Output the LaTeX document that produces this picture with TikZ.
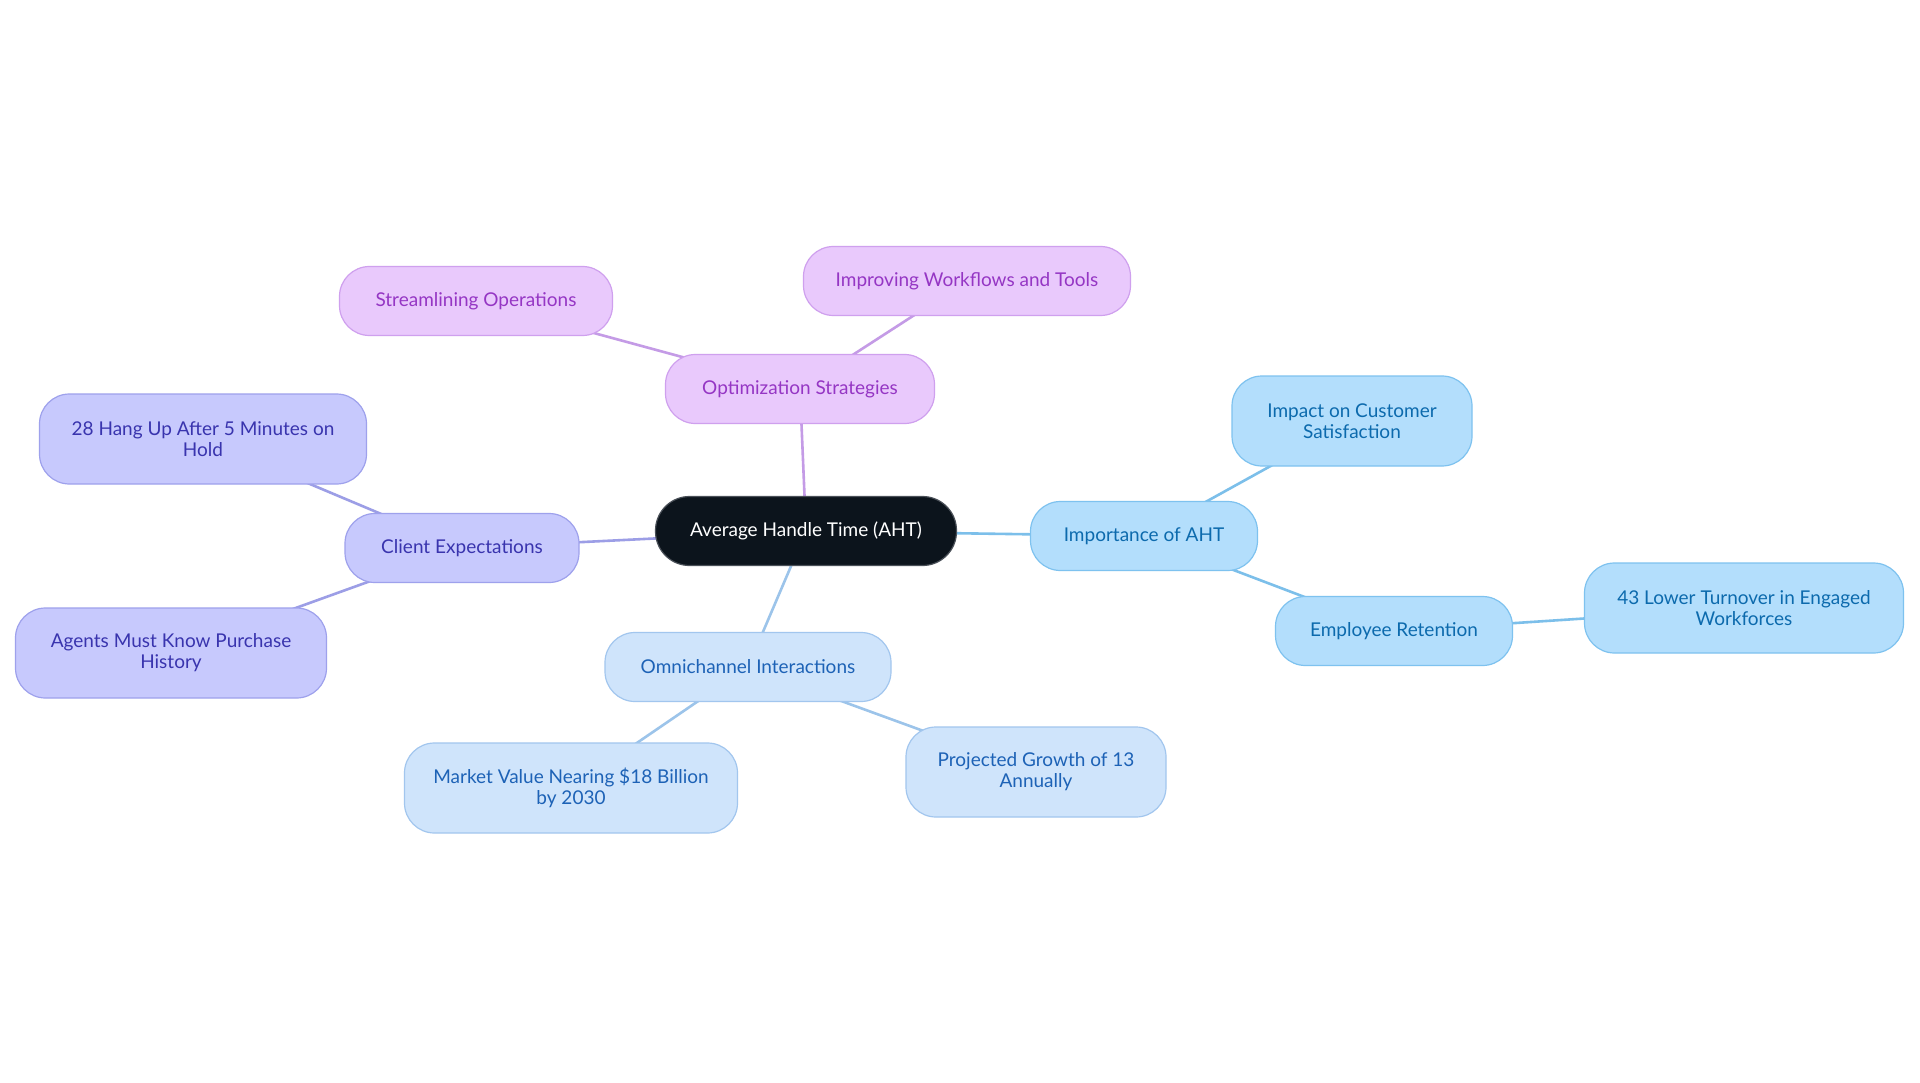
\documentclass[tikz,border=0pt]{standalone}
\usepackage{fontspec}
\setmainfont{Lato}
\usetikzlibrary{backgrounds}
\definecolor{rootfill}{HTML}{0C141C}
\definecolor{rootdraw}{HTML}{4A5058}
\definecolor{pfill}{HTML}{E9C9FC}
\definecolor{pdraw}{HTML}{CFA0EE}
\definecolor{ptext}{HTML}{9536C4}
\definecolor{pline}{HTML}{C49BE6}
\definecolor{ifill}{HTML}{C7C9FD}
\definecolor{idraw}{HTML}{9EA1EC}
\definecolor{itext}{HTML}{3934AE}
\definecolor{iline}{HTML}{9C9EE6}
\definecolor{lfill}{HTML}{CFE4FB}
\definecolor{ldraw}{HTML}{A2C6EE}
\definecolor{ltext}{HTML}{1D62B6}
\definecolor{lline}{HTML}{9CC4EA}
\definecolor{cfill}{HTML}{B3DEFC}
\definecolor{cdraw}{HTML}{7EC2EF}
\definecolor{ctext}{HTML}{0C6AAD}
\definecolor{cline}{HTML}{7CBFEA}
\tikzset{
  base/.style={rounded corners=30pt, line width=1.2pt, align=center,
    font=\fontsize{19}{21}\selectfont, inner sep=0pt, minimum height=69pt},
  tall/.style={minimum height=90pt},
  rootbox/.style={base, rounded corners=34pt, fill=rootfill, draw=rootdraw, text=white},
  purpbox/.style={base, fill=pfill, draw=pdraw, text=ptext},
  indbox/.style={base, fill=ifill, draw=idraw, text=itext},
  lightbox/.style={base, fill=lfill, draw=ldraw, text=ltext},
  cyanbox/.style={base, fill=cfill, draw=cdraw, text=ctext},
  edge/.style={line width=2.6pt},
}
\begin{document}
\begin{tikzpicture}[x=1pt,y=-1pt]
\useasboundingbox (0,0) rectangle (1920,1083);
% nodes
\node[rootbox, minimum width=301pt] (root) at (806,531) {Average Handle Time (AHT)};
\node[purpbox, minimum width=269pt] (opt) at (800,389) {Optimization Strategies};
\node[purpbox, minimum width=273pt] (stream) at (476,301) {Streamlining Operations};
\node[purpbox, minimum width=327pt] (improve) at (967,281) {Improving Workflows and Tools};
\node[indbox, minimum width=234pt] (client) at (462,548) {Client Expectations};
\node[indbox, tall, minimum width=327pt] (hang) at (203,439) {28 Hang Up After 5 Minutes on\\Hold};
\node[indbox, tall, minimum width=311pt] (agents) at (171,653) {Agents Must Know Purchase\\History};
\node[lightbox, minimum width=286pt] (omni) at (748,667) {Omnichannel Interactions};
\node[lightbox, tall, minimum width=333pt] (market) at (571,788) {Market Value Nearing \$18 Billion\\by 2030};
\node[lightbox, tall, minimum width=260pt] (growth) at (1036,772) {Projected Growth of 13\\Annually};
\node[cyanbox, minimum width=227pt] (imp) at (1144,536) {Importance of AHT};
\node[cyanbox, tall, minimum width=240pt] (impact) at (1352,421) {Impact on Customer\\Satisfaction};
\node[cyanbox, minimum width=237pt] (emp) at (1394,631) {Employee Retention};
\node[cyanbox, tall, minimum width=319pt] (turn) at (1744,608) {43 Lower Turnover in Engaged\\Workforces};
% edges (behind the nodes)
\begin{scope}[on background layer]
\fill[white] (0,0) rectangle (1920,1083);
\draw[edge, draw=pline] (root.center) -- (opt.center);
\draw[edge, draw=pline] (opt.center) -- (stream.center);
\draw[edge, draw=pline] (opt.center) -- (improve.center);
\draw[edge, draw=iline] (root.center) -- (client.center);
\draw[edge, draw=iline] (client.center) -- (hang.center);
\draw[edge, draw=iline] (client.center) -- (agents.center);
\draw[edge, draw=lline] (root.center) -- (omni.center);
\draw[edge, draw=lline] (omni.center) -- (market.center);
\draw[edge, draw=lline] (omni.center) -- (growth.center);
\draw[edge, draw=cline] (root.center) -- (imp.center);
\draw[edge, draw=cline] (imp.center) -- (impact.center);
\draw[edge, draw=cline] (imp.center) -- (emp.center);
\draw[edge, draw=cline] (emp.center) -- (turn.center);
\end{scope}
\end{tikzpicture}
\end{document}
